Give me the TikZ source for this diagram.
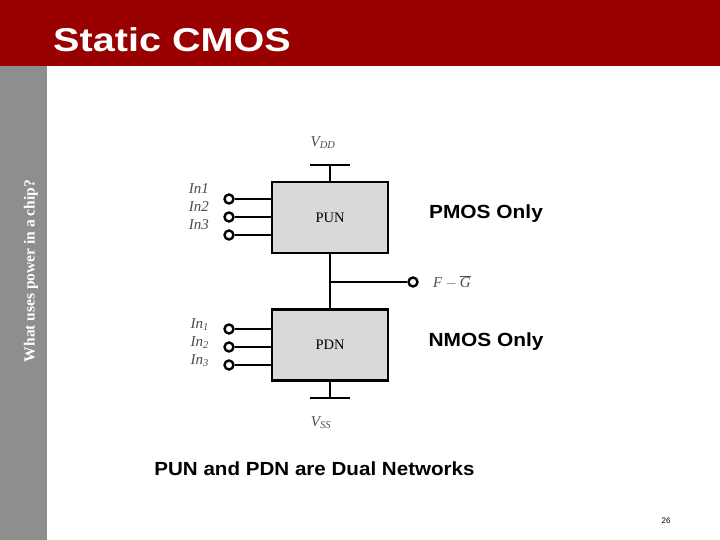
\documentclass[tikz,border=0pt]{standalone}
\usepackage{fontspec}
\setmainfont{Liberation Serif}
\newfontfamily\arial{Liberation Sans}
\definecolor{slideRed}{HTML}{990000}
\definecolor{sideGray}{HTML}{8E8E8E}
\definecolor{netGray}{HTML}{D9D9D9}
\begin{document}
\begin{tikzpicture}[
        x=1pt, y=-1pt,
        wire/.style={
            line width=2.7pt
        },
        network/.style={
            rectangle,
            draw,
            line width=2.4pt,
            fill=netGray,
            minimum width=116pt,
            minimum height=71pt,
            inner sep=0pt,
            font=\fontsize{14.5}{16}\selectfont
        },
        terminal/.style={
            circle,
            draw,
            line width=2.4pt,
            fill=white,
            minimum size=9pt,
            inner sep=0pt
        },
        pinText/.style={
            font=\fontsize{15}{17}\selectfont,
            text=black!70,
            inner sep=0pt
        },
        noteText/.style={
            font=\arial\bfseries\fontsize{19}{22}\selectfont,
            xscale=1.1,
            inner sep=0pt
        }
    ]

        \useasboundingbox (0,0) rectangle (720,540);

        % slide frame
        \fill[slideRed] (0,0) rectangle (720,66);
        \fill[sideGray] (0,66) rectangle (47,540);
        \node[font=\arial\bfseries\fontsize{33}{36}\selectfont, text=white,
              xscale=1.2, anchor=base west, inner sep=0pt] (title) at (53,52) {Static CMOS};
        \node[font=\bfseries\fontsize{15.5}{18}\selectfont, text=white, rotate=90,
              inner sep=0pt] (sideText) at (31,271) {What uses power in a chip?};

        % networks
        \node[network] (pun) at (330,217.5) {PUN};
        \node[network] (pdn) at (330,345) {PDN};

        \coordinate (vdd) at (330,165);
        \coordinate (vss) at (330,398);
        \draw[wire] (pun.north) -- (vdd);
        \draw[wire] ([xshift=-20pt]vdd) -- ([xshift=20pt]vdd);
        \draw[wire] (pdn.south) -- (vss);
        \draw[wire] ([xshift=-20pt]vss) -- ([xshift=20pt]vss);
        \node[pinText] (vddText) at (323,143) {$\mathit{V}_{\mathit{DD}}$};
        \node[pinText] (vssText) at (321,423) {$\mathit{V}_{\mathit{SS}}$};

        % inputs
        \foreach \y/\i in {199/1,217/2,235/3} {
            \node[terminal] (pIn\i) at (229,\y) {};
            \draw[wire] (pIn\i) -- (pun.west |- pIn\i);
            \node[pinText, anchor=east] at (209,\y-10) {\itshape In\i};
        }
        \foreach \y/\i in {329/1,347/2,365/3} {
            \node[terminal] (nIn\i) at (229,\y) {};
            \draw[wire] (nIn\i) -- (pdn.west |- nIn\i);
            \node[pinText, anchor=east] at (209,\y-4) {$\mathit{In}_{\mathit{\i}}$};
        }

        % output
        \draw[wire] (pun.south) -- (pdn.north);
        \coordinate (out) at (330,282);
        \node[terminal] (fOut) at (413,282) {};
        \draw[wire] (out) -- (fOut);
        \node[pinText, anchor=west] (fText) at (433,282) {$\mathit{F} - \overline{\mathit{G}}$};

        \node[noteText] (pmos) at (486,214) {PMOS Only};
        \node[noteText] (nmos) at (486,342) {NMOS Only};
        \node[noteText, xscale=0.985] (dual) at (314.5,469) {PUN and PDN are Dual Networks};

        \node[font=\arial\fontsize{8}{10}\selectfont] (page) at (666,521) {26};

    \end{tikzpicture}
\end{document}
